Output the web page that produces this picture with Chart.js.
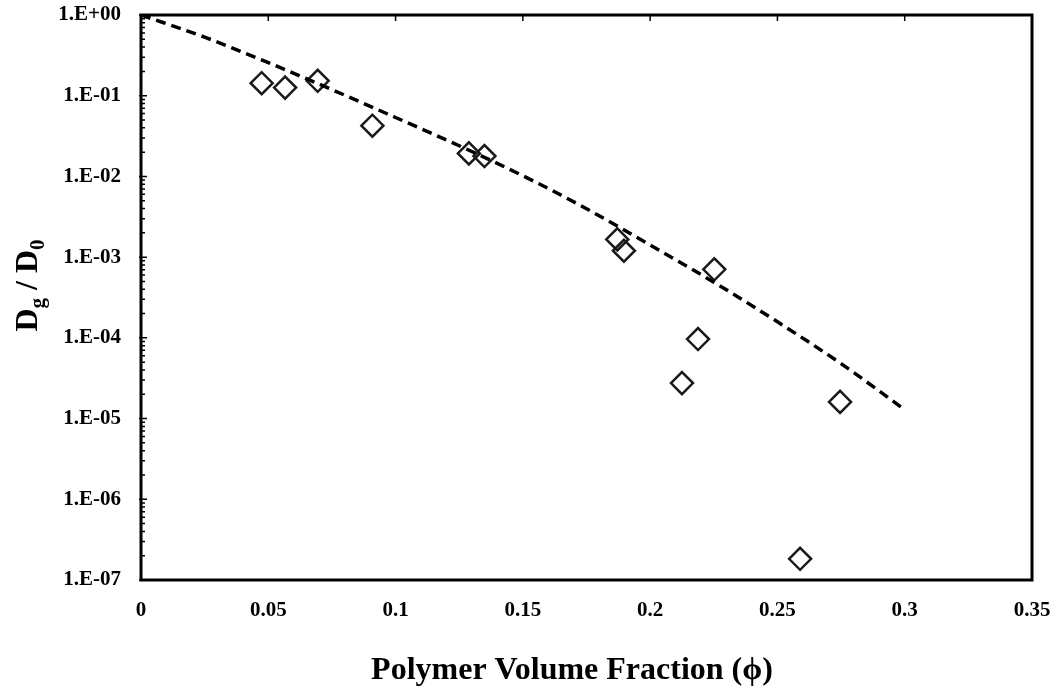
<!DOCTYPE html>
<html>
<head>
<meta charset="utf-8">
<script src="https://cdn.jsdelivr.net/npm/chart.js@4.4.1/dist/chart.umd.min.js"></script>
<style>
  html, body { margin: 0; padding: 0; background: #fff; }
  #wrap { width: 1055px; height: 690px; position: relative; }
</style>
</head>
<body>
<div id="wrap"><canvas id="canvas"></canvas></div>
<script>
// measured points (diamonds)
const phiExp = [0.0474, 0.0566, 0.0694, 0.0909, 0.1288, 0.1349, 0.1871, 0.1897, 0.2125, 0.2188, 0.2252, 0.2589, 0.2746];
const ratioExp = [0.143, 0.126, 0.153, 0.0425, 0.0193, 0.0179, 0.00166, 0.0012, 2.75e-5, 9.66e-5, 7.06e-4, 1.83e-7, 1.61e-5];

// model curve (dashed)
const phiModel = [0, 0.025, 0.05, 0.075, 0.1, 0.125, 0.15, 0.175, 0.2, 0.225, 0.25, 0.275, 0.3];
const ratioModel = [1, 0.531, 0.257, 0.119, 0.0537, 0.024, 0.0102, 0.00398, 0.00141, 0.00049, 0.000158, 4.79e-5, 1.29e-5];

const xTickValues = [0, 0.05, 0.1, 0.15, 0.2, 0.25, 0.3, 0.35];
const xTickLabels = ['0', '0.05', '0.1', '0.15', '0.2', '0.25', '0.3', '0.35'];
const yTickValues = [1e-7, 1e-6, 1e-5, 1e-4, 1e-3, 1e-2, 1e-1, 1];
const yTickLabels = ['1.E-07', '1.E-06', '1.E-05', '1.E-04', '1.E-03', '1.E-02', '1.E-01', '1.E+00'];
const xTitle = 'Polymer Volume Fraction (ϕ)';

const serif = "'Liberation Serif', 'Times New Roman', serif";

// frame, inside ticks and the axis titles (y title has subscripts)
const framePlugin = {
    id: 'frame',
    afterDraw(chart) {
        const ctx = chart.ctx;
        const a = chart.chartArea;
        const x = chart.scales.x;
        const y = chart.scales.y;
        ctx.save();
        ctx.strokeStyle = '#000';
        ctx.lineWidth = 1.5;
        ctx.beginPath();
        yTickValues.forEach(function (v) {
            const py = y.getPixelForValue(v);
            ctx.moveTo(a.left - 2, py);
            ctx.lineTo(a.left + 6, py);
        });
        for (let d = -7; d < 0; d++) {
            for (let m = 2; m <= 9; m++) {
                const py = y.getPixelForValue(m * Math.pow(10, d));
                ctx.moveTo(a.left, py);
                ctx.lineTo(a.left + 4, py);
            }
        }
        xTickValues.forEach(function (v) {
            const px = x.getPixelForValue(v);
            ctx.moveTo(px, a.top);
            ctx.lineTo(px, a.top + 6);
        });
        ctx.stroke();

        ctx.lineWidth = 3;
        ctx.strokeRect(a.left, a.top, a.right - a.left, a.bottom - a.top);

        ctx.fillStyle = '#000';
        const big = 'bold 32px ' + serif;
        const small = 'bold 21px ' + serif;

        // x title
        ctx.font = big;
        ctx.textAlign = 'center';
        ctx.textBaseline = 'alphabetic';
        ctx.fillText(xTitle, 572, 679);

        // y title: D_g / D_0
        const parts = [['D', big, 0], ['g', small, 7], [' / D', big, 0], ['0', small, 7]];
        let total = 0;
        parts.forEach(function (p) {
            ctx.font = p[1];
            total += ctx.measureText(p[0]).width;
        });
        ctx.translate(37, (a.top + a.bottom) / 2 - 12);
        ctx.rotate(-Math.PI / 2);
        ctx.textAlign = 'left';
        let cx = -total / 2;
        parts.forEach(function (p) {
            ctx.font = p[1];
            ctx.fillText(p[0], cx, p[2]);
            cx += ctx.measureText(p[0]).width;
        });
        ctx.restore();
    }
};

const data = {
    datasets: [
        {
            label: 'model',
            data: phiModel.map(function (v, i) { return { x: v, y: ratioModel[i] }; }),
            showLine: true,
            borderColor: '#000',
            borderWidth: 3.5,
            borderDash: [10, 6],
            pointRadius: 0,
            cubicInterpolationMode: 'monotone',
            order: 0,
        },
        {
            label: 'data',
            data: phiExp.map(function (v, i) { return { x: v, y: ratioExp[i] }; }),
            showLine: false,
            pointStyle: 'rectRot',
            pointRadius: 11,
            borderColor: '#1a1a1a',
            backgroundColor: 'rgba(255,255,255,0)',
            borderWidth: 2.5,
            order: 1,
        },
    ],
};

const config = {
    type: 'scatter',
    data: data,
    options: {
        responsive: true,
        maintainAspectRatio: false,
        animation: false,
        layout: { padding: { left: 0, top: 15, right: 23, bottom: 0 } },
        plugins: { legend: { display: false }, tooltip: { enabled: false } },
        scales: {
            x: {
                type: 'linear',
                min: 0,
                max: 0.35,
                grid: { display: false, drawTicks: false },
                border: { display: false },
                afterFit: function (scale) {
                    scale.height = 110;
                    scale.paddingLeft = 0;
                    scale.paddingRight = 0;
                },
                afterBuildTicks: function (scale) {
                    scale.ticks = xTickValues.map(function (v) { return { value: v }; });
                },
                ticks: {
                    padding: 18,
                    color: '#000',
                    font: { family: serif, size: 21, weight: 'bold' },
                    callback: function (v, i) { return xTickLabels[i]; },
                },
            },
            y: {
                type: 'logarithmic',
                min: 1e-7,
                max: 1,
                grid: { display: false, drawTicks: false },
                border: { display: false },
                afterFit: function (scale) {
                    scale.width = 141;
                    scale.paddingTop = 0;
                    scale.paddingBottom = 0;
                },
                afterBuildTicks: function (scale) {
                    scale.ticks = yTickValues.map(function (v) { return { value: v }; });
                },
                ticks: {
                    padding: 20,
                    color: '#000',
                    font: { family: serif, size: 21, weight: 'bold' },
                    callback: function (v, i) { return yTickLabels[i]; },
                },
            },
        },
    },
    plugins: [framePlugin],
};

const canvas = document.getElementById('canvas');
const chart = new Chart(canvas, config);
</script>
</body>
</html>
